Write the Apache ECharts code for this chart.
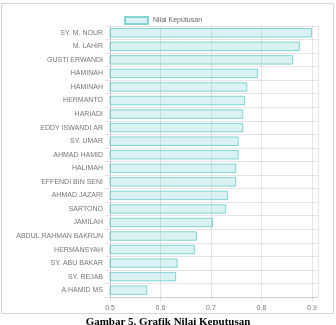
<!DOCTYPE html>
<html>
<head>
<meta charset="utf-8">
<script src="https://cdn.jsdelivr.net/npm/echarts@6/dist/echarts.min.js"></script>
<style>
  html, body { margin: 0; padding: 0; background: #fff; }
  #chart { width: 336px; height: 325px; }
</style>
</head>
<body>
<div id="chart"></div>
<script>
// nama alternatif (urut dari atas)
var names = [
  'SY. M. NOUR', 'M. LAHIR', 'GUSTI ERWANDI', 'HAMINAH', 'HAMINAH',
  'HERMANTO', 'HARIADI', 'EDDY ISWANDI AR', 'SY. UMAR', 'AHMAD HAMID',
  'HALIMAH', 'EFFENDI BIN SENI', 'AHMAD JAZARI', 'SARTONO', 'JAMILAH',
  'ABDUL RAHMAN BAKRUN', 'HERMANSYAH', 'SY. ABU BAKAR', 'SY. REJAB', 'A.HAMID MS'
];
// nilai keputusan
var nilai = [
  0.900, 0.876, 0.863, 0.793, 0.772,
  0.768, 0.764, 0.764, 0.755, 0.755,
  0.750, 0.750, 0.734, 0.730, 0.704,
  0.672, 0.668, 0.634, 0.631, 0.574
];
var xTicks = [0.5, 0.6, 0.7, 0.8, 0.9];

var gridColor = 'rgba(0,0,0,0.1)';
var myChart = echarts.init(document.getElementById('chart'));

myChart.setOption({
  animation: false,
  textStyle: { fontFamily: 'Liberation Sans, Arial, sans-serif' },
  grid: { left: 110, right: 18, top: 26, bottom: 28 },
  legend: {
    left: 119,
    top: 11,
    icon: 'rect',
    itemWidth: 23,
    itemHeight: 7,
    itemGap: 10,
    textStyle: { color: '#666', fontSize: 7 },
    data: ['Nilai Keputusan']
  },
  xAxis: {
    type: 'value',
    min: 0.5,
    max: 0.912,
    interval: 0.1,
    axisLine: { show: true, lineStyle: { color: gridColor } },
    axisTick: { show: true, length: 5, lineStyle: { color: gridColor } },
    splitLine: { show: true, lineStyle: { color: gridColor } },
    axisLabel: {
      color: '#777',
      fontSize: 7,
      margin: 8,
      showMaxLabel: false,
      formatter: function (v) {
        for (var i = 0; i < xTicks.length; i++) {
          if (Math.abs(v - xTicks[i]) < 1e-6) return xTicks[i].toFixed(1);
        }
        return '';
      }
    }
  },
  yAxis: {
    type: 'category',
    inverse: true,
    data: names,
    axisLine: { show: true, lineStyle: { color: gridColor } },
    axisTick: { show: true, length: 5, lineStyle: { color: gridColor } },
    splitLine: { show: true, lineStyle: { color: gridColor } },
    axisLabel: { color: '#777', fontSize: 7, margin: 7 }
  },
  series: [{
    name: 'Nilai Keputusan',
    type: 'bar',
    data: nilai,
    barWidth: '70%',
    itemStyle: {
      color: 'rgba(75,192,192,0.2)',
      borderColor: 'rgba(75,192,192,0.65)',
      borderWidth: 1
    }
  }],
  graphic: [
    {
      type: 'rect',
      shape: { x: 1.5, y: 3.5, width: 332, height: 310 },
      style: { fill: 'none', stroke: '#d6d6d6', lineWidth: 1 },
      z: -1
    },
    {
      type: 'text',
      left: 'center',
      top: 317,
      style: {
        text: 'Gambar 5. Grafik Nilai Keputusan',
        font: 'bold 11px "Liberation Serif", "Times New Roman", serif',
        fill: '#000'
      }
    }
  ]
});
</script>
</body>
</html>
